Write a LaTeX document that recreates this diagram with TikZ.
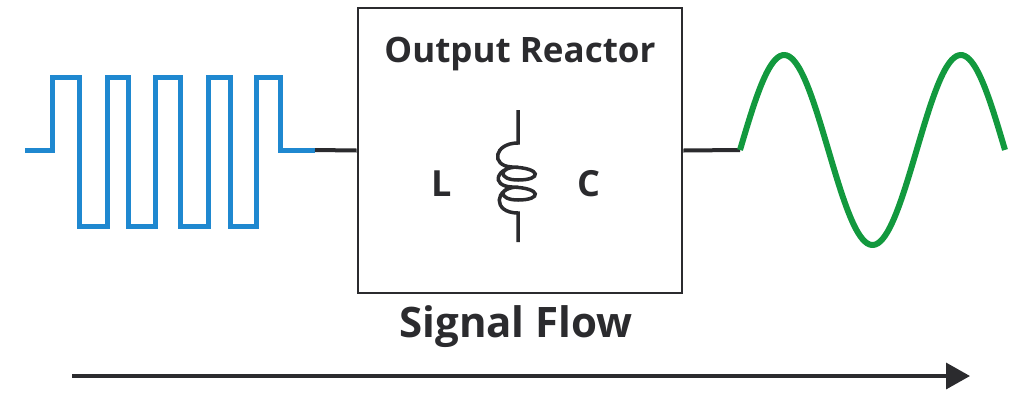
\documentclass[tikz,border=0pt]{standalone}
\usepackage{fontspec}
\setmainfont{Open Sans}
\usetikzlibrary{arrows.meta}
\definecolor{sq}{HTML}{1F88D0}
\definecolor{sn}{HTML}{12993E}
\definecolor{dk}{HTML}{2B2B2E}
\begin{document}
\begin{tikzpicture}[x=1pt,y=-1pt,
  lbl/.style={text=dk,font=\fontsize{#1}{#1}\selectfont\bfseries,inner sep=0},
  wire/.style={draw=dk,line width=4pt}]
\useasboundingbox (0,0) rectangle (1024,400);
\node[draw=dk,line width=2.8pt,minimum width=324pt,minimum height=285pt,inner sep=0] (box) at (520,150.5) {};
\node[lbl=35] (title) at (520,54) {Output Reactor};
\node[lbl=36] (L) at (442,184) {L};
\node[lbl=36] (C) at (589,184) {C};
\node[lbl=42] (flow) at (516,327) {Signal Flow};
\coordinate (sqend) at (315,150);
\coordinate (snstart) at (740,150);
\draw[line width=5pt,draw=sq,line join=miter] (25,150) -- (52,150) -- (52,77) -- (79,77) -- (79,226) -- (107,226) -- (107,77) -- (128,77) -- (128,226) -- (155,226) -- (155,77) -- (180,77) -- (180,226) -- (208,226) -- (208,77) -- (230,77) -- (230,226) -- (256,226) -- (256,77) -- (280,77) -- (280,150) -- (sqend);
\draw[wire] (sqend) -- (box.west);
\draw[wire] (box.east) -- (snstart);
\draw[line width=6pt,draw=sn,domain=0:1.5,samples=120,smooth] plot ({740+265*\x/1.5},{150-95*sin(360*\x)});
\draw[dk,line width=3.5pt] (518,110) -- (518,143) .. controls (494,143) and (490,166) .. (512,167)
  .. controls (542,168) and (542,180) .. (518,180) .. controls (498,180) and (498,167) .. (518,167)
  .. controls (496,167) and (490,186) .. (512,187)
  .. controls (542,188) and (542,200) .. (518,200) .. controls (498,200) and (498,187) .. (518,187)
  .. controls (494,187) and (492,213) .. (518,213) -- (518,242);
\draw[dk,line width=3.5pt,-{Triangle[length=24pt,width=26pt]}] (72,376) -- (970,376);
\end{tikzpicture}
\end{document}
